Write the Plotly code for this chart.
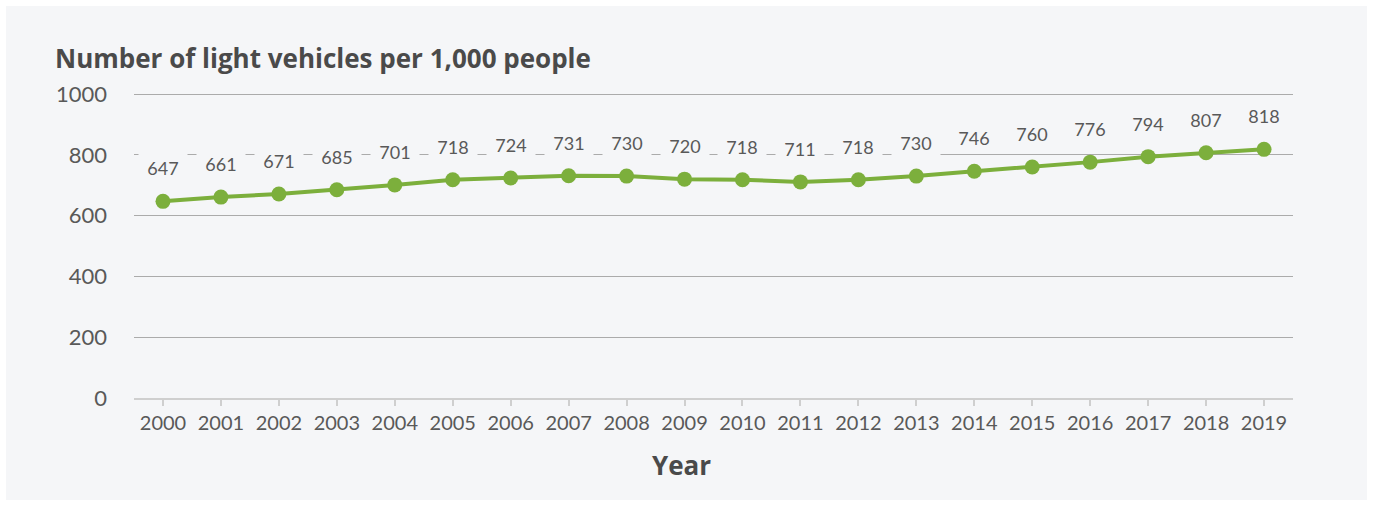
import plotly.graph_objects as go

years = [str(y) for y in range(2000, 2020)]
values = [647, 661, 671, 685, 701, 718, 724, 731, 730, 720, 718, 711, 718, 730, 746, 760, 776, 794, 807, 818]
y_ticks = [0, 200, 400, 600, 800, 1000]

title_text = "Number of light vehicles per 1,000 people"
x_title = "Year"

GREEN = "#7CAF3C"
PANEL = "#F5F6F8"
TEXT = "#595959"
FONT = "Lato"
BOLD_FONT = "Open Sans"

W, H = 1373, 506
L, R, T, B = 134, 80, 91, 108
pw, ph = W - L - R, H - T - B

def px(xp):
    return (xp - L) / pw

def py(yp):
    return (H - B - yp) / ph

fig = go.Figure()
fig.add_trace(go.Scatter(
    x=years, y=values, mode="lines+markers",
    line=dict(color=GREEN, width=4),
    marker=dict(color=GREEN, size=15),
    hoverinfo="x+y", showlegend=False,
))

annotations = []
for i, v in enumerate(values):
    annotations.append(dict(
        x=i, y=v, xref="x", yref="y", text=str(v), showarrow=False,
        yshift=33, font=dict(family=FONT, size=18, color=TEXT),
        bgcolor=PANEL, borderpad=3, width=42,
    ))
annotations.append(dict(
    x=px(53), y=py(58), xref="paper", yref="paper", text="<b>" + title_text + "</b>",
    showarrow=False, xanchor="left", yanchor="middle",
    font=dict(family=BOLD_FONT, size=26, color="#4A4A4A"),
))
annotations.append(dict(
    x=px(681), y=py(465), xref="paper", yref="paper", text="<b>" + x_title + "</b>",
    showarrow=False, xanchor="center", yanchor="middle",
    font=dict(family=BOLD_FONT, size=26, color="#4A4A4A"),
))

fig.update_layout(
    width=W, height=H,
    margin=dict(l=L, r=R, t=T, b=B),
    paper_bgcolor="white",
    plot_bgcolor=PANEL,
    annotations=annotations,
    shapes=[dict(type="rect", xref="paper", yref="paper", layer="below",
                 x0=px(6), x1=px(1367), y0=py(500), y1=py(6),
                 fillcolor=PANEL, line=dict(width=0))],
    xaxis=dict(
        type="category", range=[-0.5, len(years) - 0.5],
        showgrid=False, showline=True, linecolor="#CFCFCF", linewidth=2,
        ticks="outside", ticklen=6, tickcolor="#CFCFCF", tickwidth=2,
        tickfont=dict(family=FONT, size=20, color=TEXT),
    ),
    yaxis=dict(
        range=[0, 1010], tickvals=y_ticks, showgrid=True, gridcolor="#ABABAB", gridwidth=1,
        zeroline=False, showline=False, ticks="", ticklabelstandoff=26,
        tickfont=dict(family=FONT, size=22, color=TEXT),
    ),
)

fig.write_html("out.html")
